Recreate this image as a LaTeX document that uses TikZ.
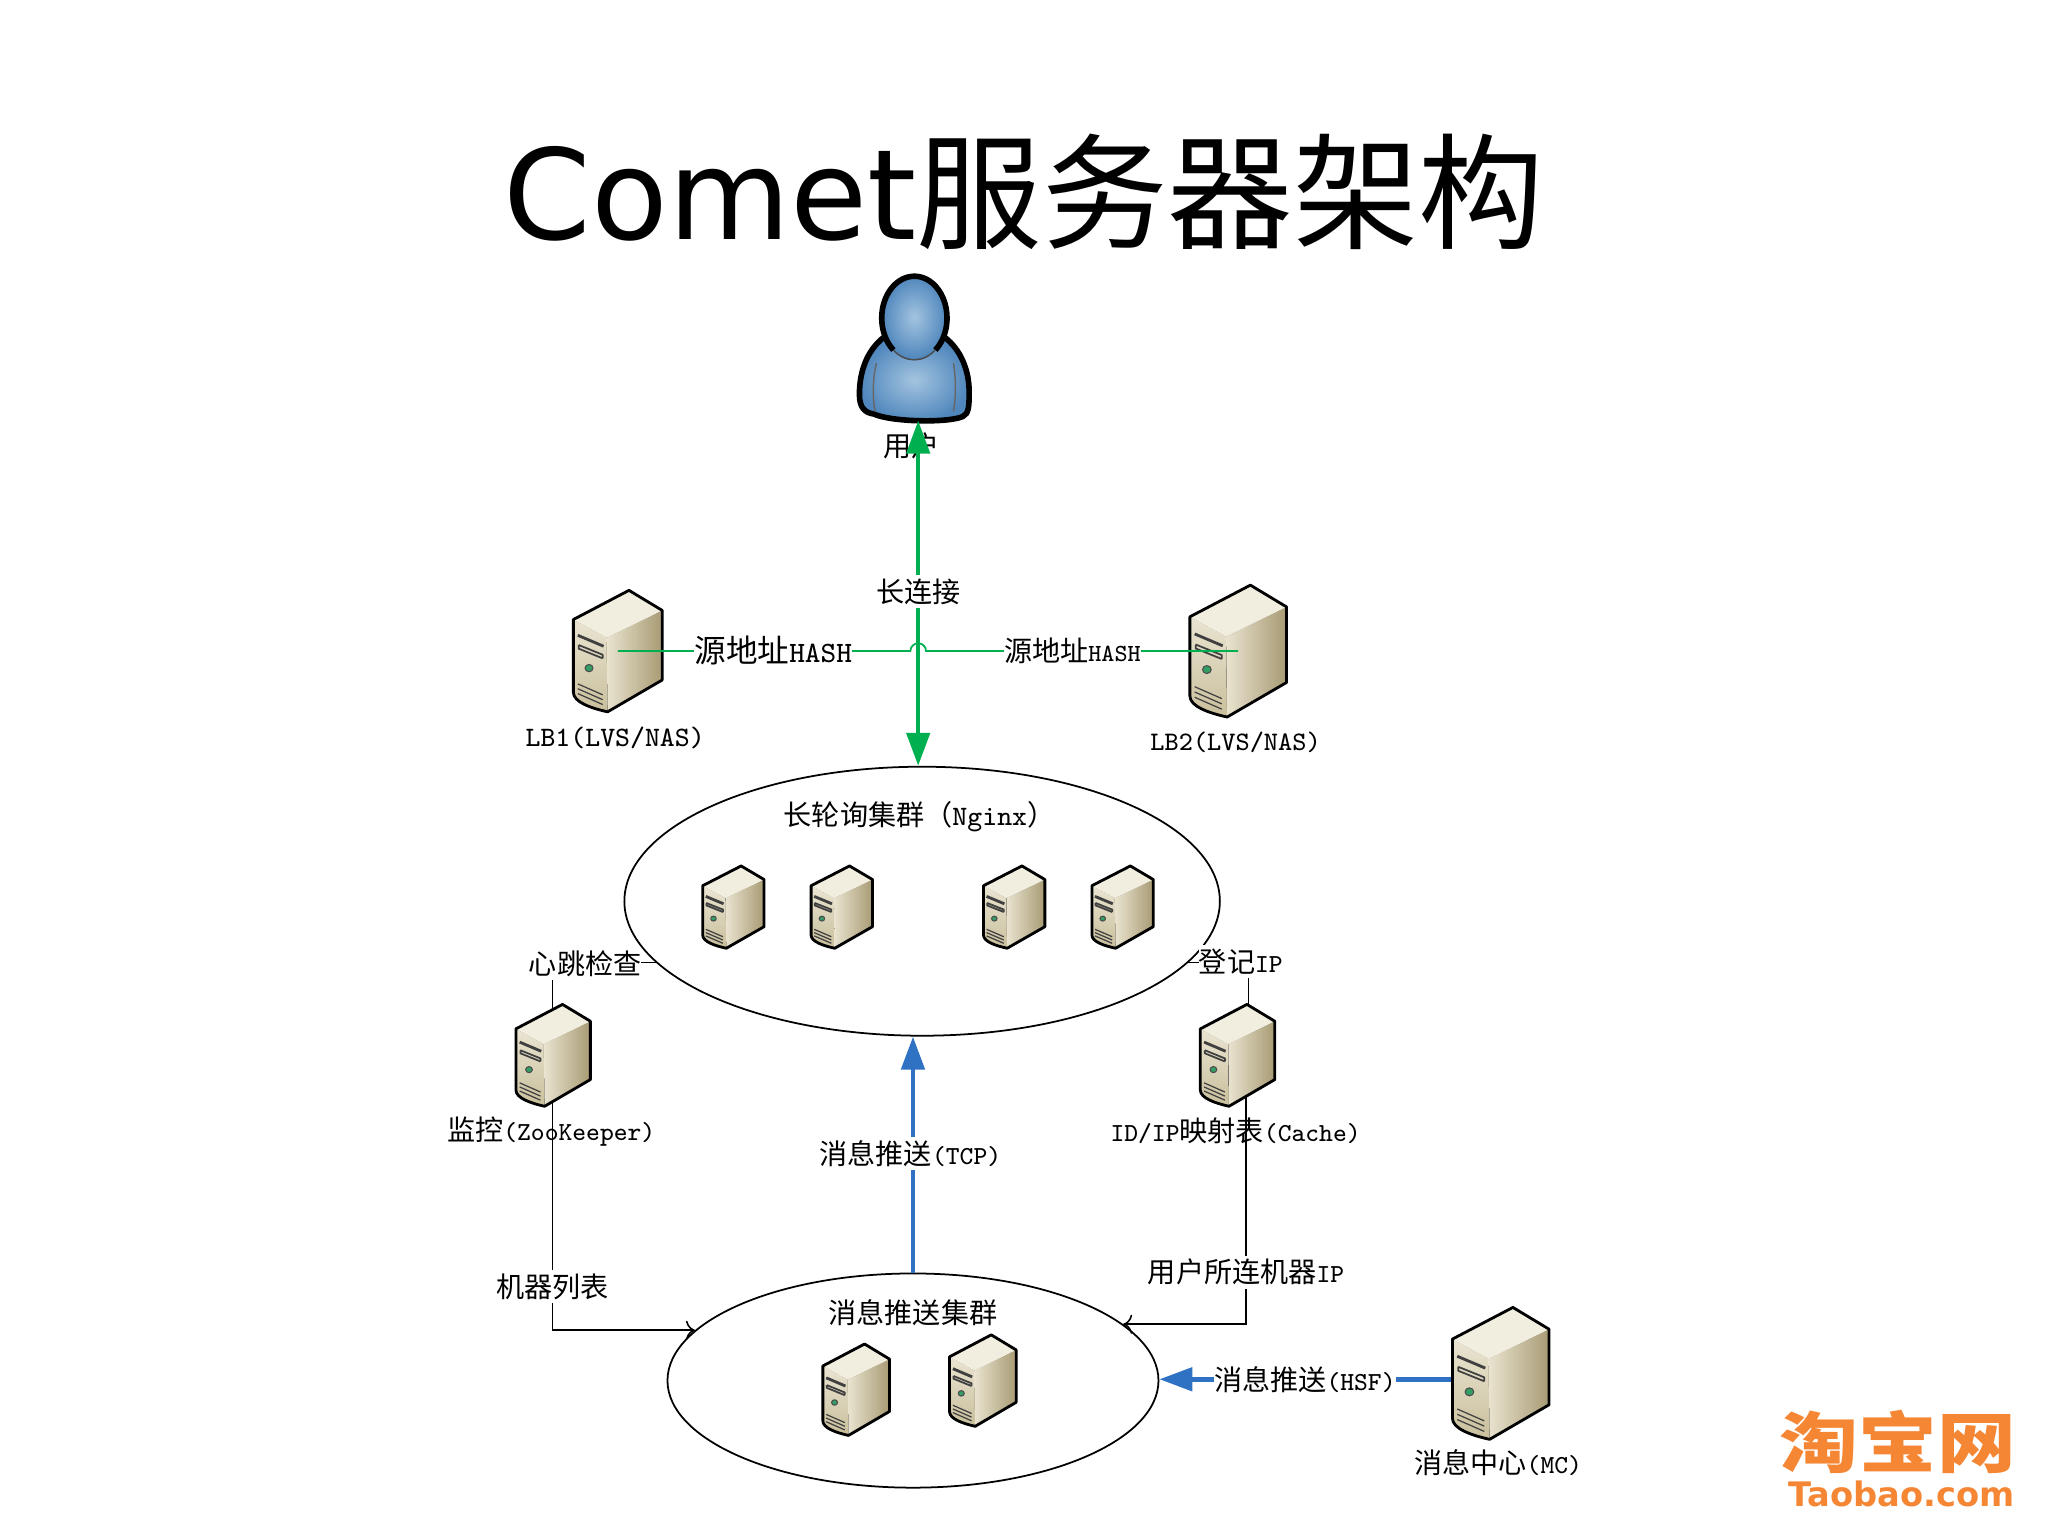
\documentclass[tikz,border=0pt]{standalone}
\usepackage{fontspec}
\usetikzlibrary{arrows.meta,shapes.geometric}
\newfontfamily\cjk{Noto Sans CJK SC}
\newfontfamily\deja{DejaVu Sans}
\newcommand{\lat}[2][7.4]{{\fontsize{#1}{10}\selectfont\ttfamily #2}}
\definecolor{lnkgreen}{HTML}{00B050}
\definecolor{lnkblue}{HTML}{2F72C4}
\definecolor{tborange}{HTML}{F58634}
\definecolor{srvlight}{HTML}{F1EEE0}
\definecolor{srvfront}{HTML}{EAE5D2}
\definecolor{srvfrontb}{HTML}{C9BF9C}
\definecolor{srvside}{HTML}{E9E3CF}
\definecolor{srvsideb}{HTML}{A89B74}
\definecolor{usrin}{HTML}{A3C4E0}
\definecolor{usrout}{HTML}{4F86BC}
\tikzset{
  lbl/.style={inner sep=1pt, font=\fontsize{8}{10}\selectfont\cjk},
  lblw/.style={lbl, fill=white, inner xsep=0pt, inner ysep=1pt},
  cluster/.style={draw, ellipse, inner sep=0pt, line width=0.5pt},
  thin link/.style={line width=0.45pt},
  green link/.style={lnkgreen, line width=1.3pt, {Triangle[length=3.3mm,width=2.3mm]}-{Triangle[length=3.3mm,width=2.3mm]}},
  blue link/.style={lnkblue, line width=1.4pt, -{Triangle[length=3.3mm,width=2.3mm]}},
  pics/server/.style n args={2}{code={
    \begin{scope}[x=#1*0.01306cm, y=-#2*0.01306cm, line join=round]
    \fill[top color=srvfront, bottom color=srvfrontb] (0,.24) -- (.375,.39) -- (.385,1) .. controls (.2,.97) and (0,.92) .. (0,.84) -- cycle;
    \fill[left color=srvside, right color=srvsideb] (.375,.39) -- (1,.165) -- (1,.738) -- (.385,1) -- cycle;
    \fill[srvlight] (0,.24) -- (.626,0) -- (1,.165) -- (.375,.39) -- cycle;
    \draw[line width=.8pt] (0,.24) -- (.626,0) -- (1,.165) -- (1,.738) -- (.385,1) .. controls (.2,.97) and (0,.92) .. (0,.84) -- cycle;
    \draw[line width=.8pt, black!75] (.05,.37) -- (.34,.46);
    \draw[line width=.5pt, black!75] (.06,.45) -- (.33,.53) -- (.33,.56) (.06,.45) -- (.06,.48) -- (.33,.56);
    \fill[lnkgreen!60!gray, draw=black!70, line width=.3pt] (.176,.64) circle[x radius=.045, y radius=.03];
    \foreach \g in {.77,.81,.85}
      \draw[line width=.35pt, black!75] (.05,\g) -- (.33,\g+.09);
    \coordinate (-c) at (.5,.5);
    \end{scope}
  }}
}
\begin{document}
\begin{tikzpicture}[x=0.01306cm, y=-0.01306cm]
\useasboundingbox (0,0) rectangle (1568,1176);
\node [inner sep=0pt, font=\fontsize{35.7}{40}\selectfont\cjk] (title) at (784,147) {{\deja Comet}服务器架构};

% clusters
\node [cluster, minimum width=5.955cm, minimum height=2.69cm] (nginx) at (706,690) {};
\node [cluster, minimum width=4.91cm, minimum height=2.142cm] (push) at (699,1057) {};

% user
\draw [line width=1.6pt, inner color=usrin, outer color=usrout] (677,258) .. controls (664,268) and (658,284) .. (658,302) .. controls (658,312) and (662,316) .. (669,317) .. controls (682,323) and (725,324) .. (737,319) .. controls (742,317) and (742,310) .. (742,300) .. controls (742,284) and (736,268) .. (723,258) -- cycle;
\draw [line width=.4pt, black!60] (671,278) .. controls (668,290) and (668,305) .. (670,315) (730,278) .. controls (732,290) and (732,305) .. (730,315);
\fill [inner color=usrin, outer color=usrout] (700,243) circle[x radius=25, y radius=32];
\draw [line width=1.6pt] (684,268) arc[start angle=130, end angle=410, x radius=25, y radius=32];
\draw [line width=.4pt, black!70] (684,268) .. controls (693,278) and (707,278) .. (716,268);
\coordinate (userb) at (703,322);
\node [lbl] (user) at (698,341) {用户};

% black links
\coordinate (zkbot) at (423,810);
\coordinate (cachebot) at (954,810);
\coordinate (regbot) at (956,810);
\draw [thin link] (zkbot) |- (nginx.193.4);
\draw [thin link] (regbot) |- (nginx.-13);
\draw [thin link, ->] (zkbot) |- (push.167.6);
\draw [thin link, ->] (cachebot) |- (push.15);

% blue links
\coordinate (mchub) at (1149,1056);
\draw [blue link] (push.north) -- (push.north |- nginx.south);
\draw [blue link] (mchub) -- (push.east |- mchub);

% servers
\pic (lb1) at (439,452) {server={68}{93}};
\pic (lb2) at (911,448) {server={74}{101}};
\foreach \n/\x in {a/538,b/621,c/753,d/836}
  \pic (ng\n) at (\x,663) {server={47}{63}};
\pic (zk) at (395,769) {server={57}{78}};
\pic (cache) at (919,769) {server={57}{78}};
\pic (pa) at (630,1029) {server={51}{70}};
\pic (pb) at (727,1022) {server={51}{70}};
\pic (mc) at (1112,1001) {server={74}{101}};

% green links
\draw [green link] (userb) -- (userb |- nginx.north);
\draw [lnkgreen, line width=.5pt] (lb1-c) -- ++(224,0) arc[start angle=180, end angle=360, radius=6] -- (lb2-c);

% labels
\node [lblw] (keep) at (703,453) {长连接};
\node [lblw, font=\fontsize{9}{11}\selectfont\cjk] (hash1) at (592,498) {源地址\lat[8.4]{HASH}};
\node [lblw] (hash2) at (821,498) {源地址\lat[7]{HASH}};
\node [lbl] (lb1t) at (471,565) {\lat[8]{LB1(LVS/NAS)}};
\node [lbl] (lb2t) at (946,568) {\lat[7.6]{LB2(LVS/NAS)}};
\node [lbl] (ngt) at (704,625) {长轮询集群（\lat[8]{Nginx}）};
\node [lblw] (hb) at (448,738) {心跳检查};
\node [lblw] (reg) at (950,736) {登记\lat{IP}};
\node [lbl] (zkt) at (422,866) {监控\lat{(ZooKeeper)}};
\node [lbl] (cachet) at (946,866) {\lat{ID/IP}映射表\lat{(Cache)}};
\node [lblw] (tcp) at (697,883) {消息推送\lat{(TCP)}};
\node [lblw] (list) at (423,985) {机器列表};
\node [lblw] (ipt) at (954,974) {用户所连机器\lat{IP}};
\node [lbl] (pusht) at (699,1005) {消息推送集群};
\node [lblw] (hsf) at (999,1056) {消息推送\lat{(HSF)}};
\node [lbl] (mct) at (1147,1120) {消息中心\lat{(MC)}};

% logo
\node [inner sep=0pt, tborange, font=\fontsize{22.4}{24}\selectfont\cjk\bfseries] (logo) at (1453,1104) {\scalebox{1}[.84]{淘宝网}};
\node [inner sep=0pt, tborange, font=\fontsize{9.6}{12}\selectfont\deja\bfseries] (logot) at (1456,1144) {Taobao.com};
\end{tikzpicture}
\end{document}
